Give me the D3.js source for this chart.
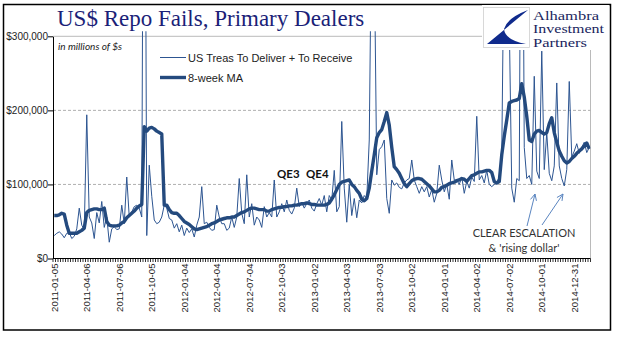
<!DOCTYPE html>
<html><head><meta charset="utf-8">
<script src="https://cdn.jsdelivr.net/npm/d3@7"></script>
<style>body{margin:0;background:#fff}svg{display:block}</style>
</head><body><svg id="c" width="618" height="341"></svg>
<script>
// ---- data (millions of US$) ----
const startDate = "2011-01-05";
const tickLabels = ["2011-01-05","2011-04-06","2011-07-06","2011-10-05","2012-01-04","2012-04-04","2012-07-04","2012-10-03","2013-01-02","2013-04-03","2013-07-03","2013-10-02","2014-01-01","2014-04-02","2014-07-02","2014-10-01","2014-12-31"];
const yTicks = [0, 100000, 200000, 300000];
const weeklyFails = [
 31000,34000,36000,33000,28000,34000,35000,27000,30000,40000,
 68000,45000,39000,194000,56000,48000,27000,62000,48000,77000,
 42000,56000,22000,40000,43000,39000,40000,72000,47000,110000,
 56000,63000,70000,72000,68000,56000,900000,31000,126000,84000,
 52000,47000,49000,56000,72000,68000,54000,52000,41000,47000,
 36000,45000,31000,41000,35000,40000,29000,45000,56000,97000,
 47000,49000,42000,38000,39000,72000,56000,47000,47000,38000,
 41000,56000,42000,56000,108000,61000,47000,113000,56000,74000,
 45000,56000,52000,42000,70000,56000,62000,56000,106000,56000,
 63000,74000,63000,79000,65000,60000,68000,95000,70000,76000,
 68000,74000,79000,68000,64000,74000,81000,72000,85000,63000,
 85000,79000,119000,63000,70000,185000,95000,49000,100000,58000,
 81000,55000,79000,75000,85000,81000,160000,480000,420000,113000,
 147000,151000,160000,81000,61000,106000,99000,102000,96000,94000,
 102000,106000,108000,133000,106000,97000,88000,97000,90000,97000,
 83000,93000,76000,88000,126000,106000,90000,100000,80000,133000,
 106000,106000,100000,110000,88000,104000,95000,110000,104000,192000,
 106000,112000,102000,119000,100000,97000,100000,103000,110000,140000,
 450000,400000,320000,95000,76000,108000,105000,800000,150000,108000,
 112000,100000,246000,118000,108000,280000,120000,170000,115000,105000,
 125000,237000,125000,108000,98000,120000,239000,137000,145000,155000,
 142000,150000,157000,143000,150000];
const movingAvg8 = [
 58000,58000,59000,61000,60000,45000,34000,34000,34000,34000,
 36000,38000,41000,62000,65000,66000,67000,67000,66000,66000,
 68000,50000,45000,44000,44000,44000,45000,48000,50000,55000,
 58000,61000,64000,68000,71000,73000,178000,172000,176000,177000,
 175000,172000,170000,168000,72000,72000,66000,62000,61000,61000,
 58000,54000,50000,48000,46000,43000,40000,39000,40000,41000,
 42000,43000,45000,47000,48000,50000,52000,53000,54000,55000,
 55000,56000,56000,58000,60000,62000,63000,65000,67000,68000,
 68000,67000,66000,66000,66000,64000,64000,66000,67000,68000,
 69000,69000,70000,70000,71000,71000,72000,72000,73000,74000,
 74000,75000,74000,73000,73000,72000,72000,72000,72000,73000,
 75000,80000,86000,93000,100000,103000,104000,105000,106000,100000,
 97000,92000,88000,80000,78000,81000,95000,118000,140000,163000,
 170000,174000,185000,197000,180000,150000,124000,120000,115000,108000,
 101000,97000,101000,105000,107000,108000,108000,107000,104000,101000,
 98000,94000,90000,90000,92000,96000,97000,99000,101000,102000,
 103000,105000,106000,108000,107000,104000,108000,112000,113000,115000,
 117000,117000,118000,119000,119000,116000,104000,102000,104000,140000,
 165000,187000,210000,212000,213000,214000,216000,236000,218000,192000,
 160000,158000,168000,172000,173000,170000,168000,170000,182000,190000,
 170000,157000,145000,138000,132000,129000,131000,135000,138000,142000,
 145000,148000,152000,156000,148000];
const seriesNames = ["US Treas To Deliver + To Receive", "8-week MA"];
const logoLines = ["Alhambra", "Investment", "Partners"];

// ---- categories (weekly dates) ----
const parse = d3.utcParse("%Y-%m-%d"), fmt = d3.utcFormat("%Y-%m-%d");
const categories = weeklyFails.map((_, i) => fmt(d3.utcDay.offset(parse(startDate), 7 * i)));

const svg = d3.select("#c");
const L = 53, R = 590.5, T = 36.3, B = 258.5;
const x = d3.scaleBand().domain(categories).range([L, R]).padding(0);
const bw = x.bandwidth();
const cx = c => x(c) + bw / 2;
const y = d3.scaleLinear().domain([0, 300000]).range([B, T]);

// outer frame
svg.append("rect").attr("x", 3.5).attr("y", 4.5).attr("width", 607).attr("height", 325.5)
  .attr("fill", "none").attr("stroke", "#000").attr("stroke-width", 1.5);

// title
svg.append("text").attr("x", 57).attr("y", 26).text("US$ Repo Fails, Primary Dealers")
  .attr("font-family", "Liberation Serif, serif").attr("font-size", 23).attr("fill", "#1b1f78");

// gridlines
svg.append("g").selectAll("line").data(yTicks.filter(v => v > 0 && v < 300000)).join("line")
  .attr("x1", L).attr("x2", R).attr("y1", d => y(d)).attr("y2", d => y(d))
  .attr("stroke", "#9a9a9a").attr("stroke-width", 0.8).attr("stroke-dasharray", "3,2");
// plot area border (top/right)
svg.append("path").attr("d", `M${L},${T}H${R}V${B}`).attr("fill", "none")
  .attr("stroke", "#a8a8a8").attr("stroke-width", 0.8);

// clip
svg.append("clipPath").attr("id", "clip").append("rect")
  .attr("x", L).attr("y", T - 5).attr("width", R - L).attr("height", B - T + 5);

const idx = d3.range(categories.length);
const lineGen = arr => d3.line().x(i => cx(categories[i])).y(i => y(arr[i]))(idx);

const gLines = svg.append("g").attr("clip-path", "url(#clip)");
gLines.append("path").attr("d", lineGen(weeklyFails)).attr("fill", "none")
  .attr("stroke", "#2d5591").attr("stroke-width", 1);
gLines.append("path").attr("d", lineGen(movingAvg8)).attr("fill", "none")
  .attr("stroke", "#244a7e").attr("stroke-width", 3.4).attr("stroke-linejoin", "round");

// y axis
const yAxis = d3.axisLeft(y).tickValues(yTicks).tickSize(5).tickSizeOuter(0)
  .tickFormat(d => "$" + d3.format(",")(d));
const gy = svg.append("g").attr("transform", `translate(${L},0)`).call(yAxis);
gy.select(".domain").attr("stroke", "#000");
gy.selectAll(".tick line").attr("stroke", "#000");
gy.selectAll("text").attr("font-family", "Liberation Sans, Arial, sans-serif").attr("font-size", 10).attr("fill", "#222").attr("x", -5);

// x axis
svg.append("line").attr("x1", L).attr("x2", R).attr("y1", B).attr("y2", B).attr("stroke", "#000");
svg.append("g").selectAll("line").data(categories.concat([null])).join("line")
  .attr("x1", d => d === null ? R : x(d)).attr("x2", d => d === null ? R : x(d))
  .attr("y1", B).attr("y2", B + 3.5).attr("stroke", "#000").attr("stroke-width", 0.8);
svg.append("g").selectAll("text").data(tickLabels).join("text")
  .attr("transform", d => `translate(${cx(d) + 3.5},${B + 5}) rotate(-90)`)
  .attr("text-anchor", "end").text(d => d)
  .attr("font-family", "Liberation Sans, Arial, sans-serif").attr("font-size", 9.6).attr("fill", "#222");

// unit note
svg.append("text").attr("x", 58).attr("y", 50).text("in millions of $s")
  .attr("font-family", "Lato, sans-serif").attr("font-style", "italic").attr("font-size", 10).attr("fill", "#222");

// legend
const lg = svg.append("g");
lg.append("line").attr("x1", 160).attr("x2", 186).attr("y1", 57.5).attr("y2", 57.5).attr("stroke", "#2d5591").attr("stroke-width", 1);
lg.append("line").attr("x1", 160).attr("x2", 186).attr("y1", 77.5).attr("y2", 77.5).attr("stroke", "#244a7e").attr("stroke-width", 3.4);
lg.selectAll("text").data(seriesNames).join("text").attr("x", 188).attr("y", (d, i) => 61.5 + 20 * i).text(d => d)
  .attr("font-family", "Liberation Sans, Arial, sans-serif").attr("font-size", 11).attr("fill", "#222");

// annotations
svg.append("text").attr("x", 277).attr("y", 178).text("QE3").attr("font-family", "Lato, sans-serif").attr("font-weight", "bold").attr("font-size", 11.5).attr("fill", "#111");
svg.append("text").attr("x", 306).attr("y", 178).text("QE4").attr("font-family", "Lato, sans-serif").attr("font-weight", "bold").attr("font-size", 11.5).attr("fill", "#111");
svg.append("text").attr("x", 524).attr("y", 237).attr("text-anchor", "middle").text("CLEAR  ESCALATION")
  .attr("font-family", "Lato, sans-serif").attr("font-size", 11).attr("fill", "#333");
svg.append("text").attr("x", 524).attr("y", 252).attr("text-anchor", "middle").text("& 'rising dollar'")
  .attr("font-family", "Lato, sans-serif").attr("font-size", 11).attr("fill", "#333");
const arrows = [[527, 226, 535, 194], [542, 225, 563, 194]];
arrows.forEach(([x1, y1, x2, y2]) => {
  const a = Math.atan2(y2 - y1, x2 - x1), h = 7, s = 0.45;
  svg.append("path").attr("d", `M${x1},${y1}L${x2},${y2}M${x2 - h * Math.cos(a - s)},${y2 - h * Math.sin(a - s)}L${x2},${y2}L${x2 - h * Math.cos(a + s)},${y2 - h * Math.sin(a + s)}`)
    .attr("fill", "none").attr("stroke", "#5a85c0").attr("stroke-width", 1);
});

// logo
const logo = svg.append("g");
logo.append("rect").attr("x", 482).attr("y", 5).attr("width", 127).attr("height", 45).attr("fill", "#fff");
logo.append("rect").attr("x", 483.5).attr("y", 7.5).attr("width", 46).attr("height", 40).attr("fill", "#fff").attr("stroke", "#cfcfcf").attr("stroke-width", 0.8);
logo.append("path").attr("d", "M528,10 L487,44 L526,44 Q505,40 504,29 Q507,18 528,10 Z").attr("fill", "#0f2a8c");
const logoLen = [66, 71, 54];
logoLines.forEach((t, i) => {
  logo.append("text").attr("x", 533).attr("y", 19.5 + 13.8 * i).text(t)
    .attr("textLength", logoLen[i]).attr("lengthAdjust", "spacingAndGlyphs")
    .attr("font-family", "Liberation Serif, serif").attr("font-size", 12).attr("fill", "#1a1f5e");
});
</script></body></html>
